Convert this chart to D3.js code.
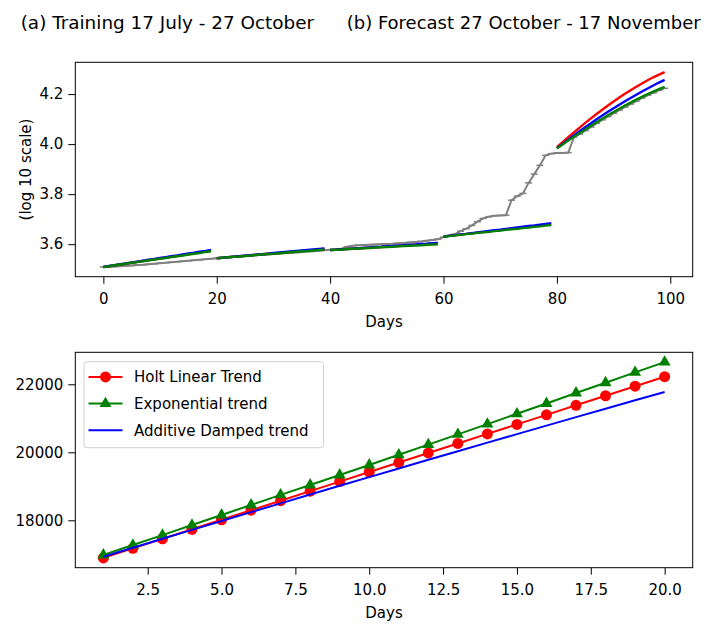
<!DOCTYPE html>
<html>
<head>
<meta charset="utf-8">
<script src="https://cdn.jsdelivr.net/npm/d3@7"></script>
<style>
  body { margin: 0; background: #fff; }
  text { font-family: "DejaVu Sans", sans-serif; fill: #000; }
</style>
</head>
<body>
<svg id="chart" width="714" height="626"></svg>
<script>
// top panel: log10 of cumulative cases, day 0..99
const actualLog = [
  3.509, 3.510, 3.511, 3.512, 3.514, 3.515, 3.517, 3.518, 3.520, 3.522, 3.524, 3.526, 3.528, 3.530, 3.532, 3.534, 3.536, 3.538, 3.540, 3.542,
  3.544, 3.546, 3.548, 3.549, 3.551, 3.553, 3.554, 3.556, 3.558, 3.559, 3.561, 3.563, 3.564, 3.566, 3.567, 3.569, 3.571, 3.572, 3.574, 3.576,
  3.578, 3.580, 3.582, 3.590, 3.594, 3.596, 3.597, 3.598, 3.599, 3.600, 3.601, 3.602, 3.604, 3.605, 3.607, 3.609, 3.611, 3.614, 3.617, 3.620,
  3.628, 3.635, 3.640, 3.652, 3.662, 3.675, 3.690, 3.703, 3.710, 3.714, 3.715, 3.716, 3.776, 3.792, 3.803, 3.845, 3.880, 3.915, 3.955, 3.962,
  3.964, 3.964, 3.966, 4.028, 4.040, 4.054, 4.068, 4.083, 4.097, 4.110, 4.123, 4.136, 4.148, 4.160, 4.172, 4.184, 4.195, 4.205, 4.215, 4.223
];
const holtLog = [
  3.509, 3.512, 3.516, 3.519, 3.523, 3.526, 3.530, 3.533, 3.536, 3.540, 3.543, 3.547, 3.550, 3.553, 3.557, 3.560, 3.564, 3.567, 3.571, 3.574,
  3.544, 3.546, 3.548, 3.550, 3.552, 3.554, 3.556, 3.558, 3.560, 3.562, 3.563, 3.565, 3.567, 3.569, 3.571, 3.573, 3.575, 3.577, 3.579, 3.581,
  3.577, 3.578, 3.580, 3.581, 3.582, 3.584, 3.585, 3.587, 3.588, 3.589, 3.591, 3.592, 3.593, 3.595, 3.596, 3.598, 3.599, 3.600, 3.602, 3.603,
  3.630, 3.633, 3.635, 3.638, 3.641, 3.643, 3.646, 3.648, 3.651, 3.654, 3.656, 3.659, 3.662, 3.664, 3.667, 3.669, 3.672, 3.675, 3.677, 3.680,
  3.988, 4.008, 4.028, 4.047, 4.066, 4.085, 4.103, 4.120, 4.137, 4.154, 4.170, 4.186, 4.201, 4.215, 4.229, 4.242, 4.255, 4.267, 4.278, 4.288
];
const dampLog = [
  3.509, 3.513, 3.516, 3.520, 3.523, 3.527, 3.530, 3.534, 3.538, 3.541, 3.545, 3.548, 3.552, 3.555, 3.559, 3.563, 3.566, 3.570, 3.573, 3.577,
  3.544, 3.546, 3.548, 3.550, 3.552, 3.554, 3.556, 3.558, 3.560, 3.562, 3.565, 3.567, 3.569, 3.571, 3.573, 3.575, 3.577, 3.579, 3.581, 3.583,
  3.577, 3.578, 3.580, 3.581, 3.583, 3.584, 3.586, 3.587, 3.589, 3.590, 3.592, 3.593, 3.595, 3.596, 3.598, 3.599, 3.601, 3.602, 3.604, 3.605,
  3.630, 3.633, 3.636, 3.639, 3.641, 3.644, 3.647, 3.650, 3.653, 3.656, 3.658, 3.661, 3.664, 3.667, 3.670, 3.673, 3.675, 3.678, 3.681, 3.684,
  3.984, 4.001, 4.018, 4.035, 4.051, 4.067, 4.083, 4.099, 4.114, 4.129, 4.143, 4.157, 4.171, 4.184, 4.197, 4.210, 4.222, 4.234, 4.246, 4.257
];
const expLog = [
  3.509, 3.512, 3.516, 3.519, 3.522, 3.526, 3.529, 3.532, 3.536, 3.539, 3.542, 3.545, 3.549, 3.552, 3.555, 3.559, 3.562, 3.565, 3.569, 3.572,
  3.544, 3.546, 3.548, 3.550, 3.551, 3.553, 3.555, 3.557, 3.559, 3.561, 3.562, 3.564, 3.566, 3.568, 3.570, 3.572, 3.573, 3.575, 3.577, 3.579,
  3.577, 3.578, 3.579, 3.581, 3.582, 3.583, 3.584, 3.585, 3.587, 3.588, 3.589, 3.590, 3.592, 3.593, 3.594, 3.595, 3.596, 3.598, 3.599, 3.600,
  3.630, 3.632, 3.635, 3.637, 3.640, 3.642, 3.645, 3.647, 3.649, 3.652, 3.654, 3.657, 3.659, 3.661, 3.664, 3.666, 3.669, 3.671, 3.674, 3.676,
  3.982, 3.998, 4.014, 4.029, 4.044, 4.058, 4.073, 4.087, 4.101, 4.115, 4.128, 4.141, 4.154, 4.166, 4.178, 4.189, 4.200, 4.210, 4.220, 4.229
];
const segmentStarts = [0, 20, 40, 60, 80];
const segmentLength = 20;
const topXTicks = [0, 20, 40, 60, 80, 100];
const topYTicks = [3.6, 3.8, 4.0, 4.2];

// bottom panel: 20-day forecast in cases
const forecastDays = [1, 2, 3, 4, 5, 6, 7, 8, 9, 10, 11, 12, 13, 14, 15, 16, 17, 18, 19, 20];
const holtCases = [16894, 17175, 17455, 17736, 18016, 18297, 18577, 18858, 19138, 19419,
  19699, 19980, 20260, 20541, 20821, 21102, 21382, 21663, 21943, 22224];
const expCases = [16980, 17272, 17565, 17860, 18156, 18452, 18748, 19040, 19332, 19628,
  19926, 20225, 20526, 20828, 21132, 21437, 21744, 22045, 22350, 22653];
const dampCases = [16930, 17194, 17457, 17719, 17980, 18240, 18499, 18757, 19014, 19270,
  19525, 19779, 20032, 20284, 20535, 20785, 21034, 21282, 21529, 21775];
const bottomXTicks = [2.5, 5.0, 7.5, 10.0, 12.5, 15.0, 17.5, 20.0];
const bottomYTicks = [18000, 20000, 22000];

const legendNames = ['Holt Linear Trend', 'Exponential trend', 'Additive Damped trend'];
const colors = { holt: '#ff0000', exp: '#008000', damp: '#0000ff', actual: '#808080' };

const svg = d3.select('#chart');

// matplotlib style 5% margins
const padExtent = (lo, hi) => {
  const m = (hi - lo) * 0.05;
  return [lo - m, hi + m];
};

const drawAxes = (g, x, y, xTicks, yTicks, xFmt, yFmt, box) => {
  g.append('g')
    .attr('transform', 'translate(0,' + box.bottom + ')')
    .call(d3.axisBottom(x).tickValues(xTicks).tickFormat(xFmt).tickSize(7).tickPadding(9.5).tickSizeOuter(0))
    .call(a => a.select('.domain').remove());
  g.append('g')
    .attr('transform', 'translate(' + box.left + ',0)')
    .call(d3.axisLeft(y).tickValues(yTicks).tickFormat(yFmt).tickSize(7).tickPadding(5).tickSizeOuter(0))
    .call(a => a.select('.domain').remove());
  g.selectAll('.tick text')
    .attr('font-family', '"DejaVu Sans", sans-serif')
    .attr('font-size', 15)
    .attr('fill', '#000');
  g.selectAll('.tick line').attr('stroke', '#000').attr('stroke-width', 1);
  g.append('rect')
    .attr('x', box.left).attr('y', box.top)
    .attr('width', box.right - box.left).attr('height', box.bottom - box.top)
    .attr('fill', 'none').attr('stroke', '#000').attr('stroke-width', 1);
};

/* ---------------- top panel ---------------- */
const topBox = { left: 75.3, right: 692.7, top: 62.3, bottom: 276.7 };
const allTop = actualLog.concat(holtLog, dampLog, expLog);
const xTop = d3.scaleLinear().domain(padExtent(0, actualLog.length - 1)).range([topBox.left, topBox.right]);
const yTop = d3.scaleLinear().domain(padExtent(d3.min(allTop), d3.max(allTop))).range([topBox.bottom, topBox.top]);

const gTop = svg.append('g');
const lineTop = d3.line().x(d => xTop(d[0])).y(d => yTop(d[1]));

// actual series, gray with small horizontal marks
const actualPts = actualLog.map((v, i) => [i, v]);
gTop.append('path')
  .datum(actualPts)
  .attr('d', lineTop)
  .attr('fill', 'none')
  .attr('stroke', colors.actual)
  .attr('stroke-width', 2);
gTop.selectAll('line.mark')
  .data(actualPts)
  .enter()
  .append('line')
  .attr('class', 'mark')
  .attr('x1', d => xTop(d[0]) - 3.5)
  .attr('x2', d => xTop(d[0]) + 3.5)
  .attr('y1', d => yTop(d[1]))
  .attr('y2', d => yTop(d[1]))
  .attr('stroke', colors.actual)
  .attr('stroke-width', 1.5);

// forecasts per 20-day block
[[holtLog, colors.holt], [dampLog, colors.damp], [expLog, colors.exp]].forEach(([series, c]) => {
  segmentStarts.forEach(s => {
    const pts = series.slice(s, s + segmentLength).map((v, i) => [s + i, v]);
    gTop.append('path')
      .datum(pts)
      .attr('d', lineTop)
      .attr('fill', 'none')
      .attr('stroke', c)
      .attr('stroke-width', 2.4);
  });
});

drawAxes(gTop, xTop, yTop, topXTicks, topYTicks, d3.format('d'), d3.format('.1f'), topBox);

gTop.append('text')
  .attr('x', (topBox.left + topBox.right) / 2)
  .attr('y', 327)
  .attr('text-anchor', 'middle')
  .attr('font-size', 15)
  .text('Days');
gTop.append('text')
  .attr('transform', 'translate(30.5,' + (topBox.top + topBox.bottom) / 2 + ') rotate(-90)')
  .attr('text-anchor', 'middle')
  .attr('font-size', 15)
  .text('(log 10 scale)');

// titles
svg.append('text').attr('x', 20.7).attr('y', 28.5).attr('font-size', 18.4)
  .text('(a) Training 17 July - 27 October');
svg.append('text').attr('x', 346.7).attr('y', 28.5).attr('font-size', 18)
  .text('(b) Forecast 27 October - 17 November');

/* ---------------- bottom panel ---------------- */
const botBox = { left: 75.3, right: 692.7, top: 352.3, bottom: 567.7 };
const allBot = holtCases.concat(expCases, dampCases);
const xBot = d3.scaleLinear().domain(padExtent(d3.min(forecastDays), d3.max(forecastDays))).range([botBox.left, botBox.right]);
const yBot = d3.scaleLinear().domain(padExtent(d3.min(allBot), d3.max(allBot))).range([botBox.bottom, botBox.top]);

const gBot = svg.append('g');
const lineBot = d3.line().x(d => xBot(d[0])).y(d => yBot(d[1]));
const triangle = d3.symbol().type(d3.symbolTriangle).size(62);

const holtPts = forecastDays.map((d, i) => [d, holtCases[i]]);
const expPts = forecastDays.map((d, i) => [d, expCases[i]]);
const dampPts = forecastDays.map((d, i) => [d, dampCases[i]]);

gBot.append('path').datum(holtPts).attr('d', lineBot)
  .attr('fill', 'none').attr('stroke', colors.holt).attr('stroke-width', 2);
gBot.selectAll('circle.holt')
  .data(holtPts)
  .enter()
  .append('circle')
  .attr('class', 'holt')
  .attr('cx', d => xBot(d[0]))
  .attr('cy', d => yBot(d[1]))
  .attr('r', 5.5)
  .attr('fill', colors.holt);

gBot.append('path').datum(expPts).attr('d', lineBot)
  .attr('fill', 'none').attr('stroke', colors.exp).attr('stroke-width', 2);
gBot.selectAll('path.exp')
  .data(expPts)
  .enter()
  .append('path')
  .attr('class', 'exp')
  .attr('d', triangle)
  .attr('transform', d => 'translate(' + xBot(d[0]) + ',' + yBot(d[1]) + ')')
  .attr('fill', colors.exp);

gBot.append('path').datum(dampPts).attr('d', lineBot)
  .attr('fill', 'none').attr('stroke', colors.damp).attr('stroke-width', 2);

drawAxes(gBot, xBot, yBot, bottomXTicks, bottomYTicks, d3.format('.1f'), d3.format('d'), botBox);

gBot.append('text')
  .attr('x', (botBox.left + botBox.right) / 2)
  .attr('y', 617.6)
  .attr('text-anchor', 'middle')
  .attr('font-size', 15)
  .text('Days');

// legend
const leg = gBot.append('g');
leg.append('rect')
  .attr('x', 84).attr('y', 361.7)
  .attr('width', 239.5).attr('height', 86)
  .attr('rx', 3)
  .attr('fill', '#fff').attr('fill-opacity', 0.8)
  .attr('stroke', '#d0d0d0');
const legRows = leg.selectAll('g.row')
  .data(legendNames)
  .enter()
  .append('g')
  .attr('class', 'row')
  .attr('transform', (d, i) => 'translate(0,' + (376.9 + i * 26.7) + ')');
legRows.append('line')
  .attr('x1', 88.5).attr('x2', 122.5)
  .attr('stroke', (d, i) => [colors.holt, colors.exp, colors.damp][i])
  .attr('stroke-width', 2);
legRows.filter((d, i) => i === 0).append('circle')
  .attr('cx', 105.5).attr('r', 5.5).attr('fill', colors.holt);
legRows.filter((d, i) => i === 1).append('path')
  .attr('d', triangle)
  .attr('transform', 'translate(105.5,0)')
  .attr('fill', colors.exp);
legRows.append('text')
  .attr('x', 134)
  .attr('dy', '0.36em')
  .attr('font-size', 15)
  .text(d => d);
</script>
</body>
</html>
